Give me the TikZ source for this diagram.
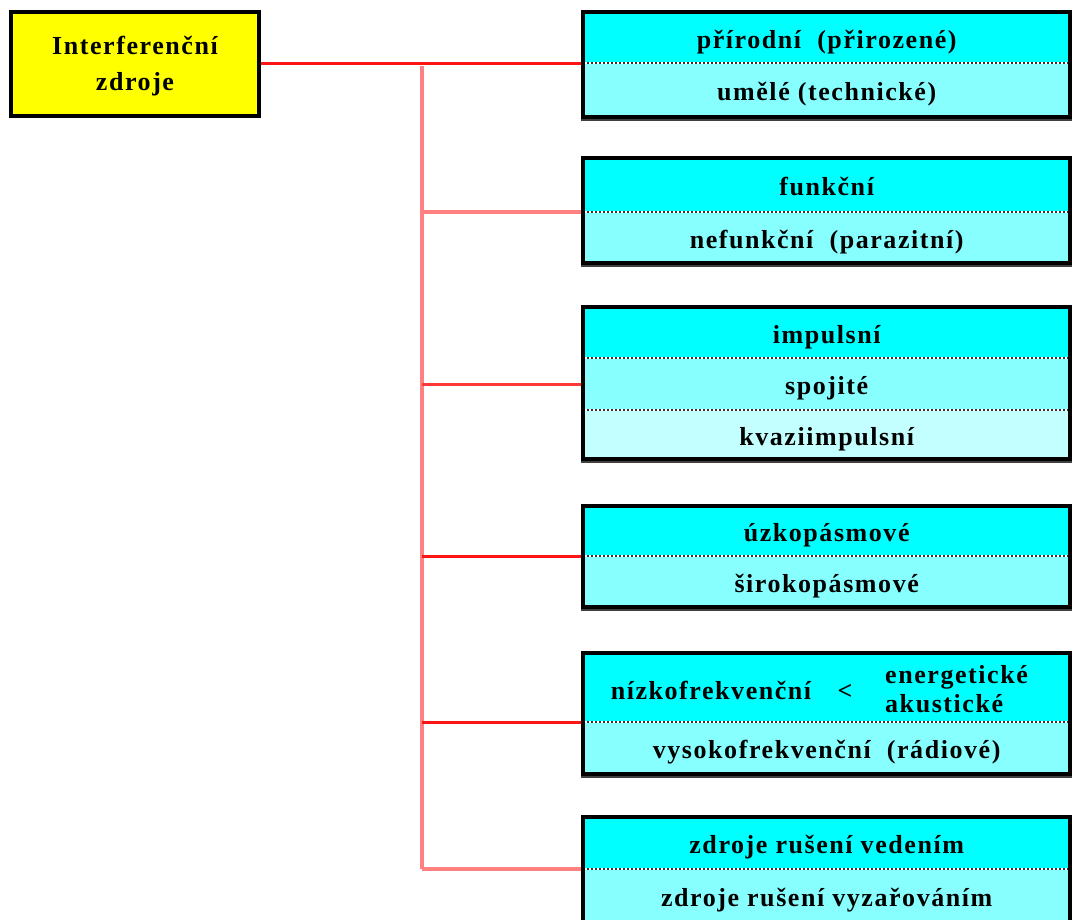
\documentclass[tikz,border=0pt]{standalone}
\usepackage{fontspec}
\setmainfont[LetterSpace=6]{Liberation Serif}
\usetikzlibrary{fit}
\definecolor{cyanA}{RGB}{0,255,255}
\definecolor{cyanB}{RGB}{135,255,255}
\definecolor{cyanC}{RGB}{195,255,255}
\definecolor{lineRed}{RGB}{255,20,20}
\definecolor{lineMid}{RGB}{255,55,55}
\definecolor{linePink}{RGB}{255,128,128}
\definecolor{yel}{RGB}{255,255,0}
\tikzset{
  lbl/.style={font=\fontsize{26}{34}\selectfont\bfseries, inner sep=0pt, text=black},
  rowbase/.style={anchor=north west, minimum width=487pt, inner sep=0pt, draw=none, lbl, text height=21pt, text depth=0pt},
  rowA/.style={rowbase, fill=cyanA},
  rowB/.style={rowbase, fill=cyanB},
  rowC/.style={rowbase, fill=cyanC},
  frame/.style={draw=black, line width=4pt, inner sep=0pt, fill=none},
  divider/.style={draw=white, line width=2pt, postaction={draw=black!80, line width=2pt, dash pattern=on 2pt off 2pt}},
  shadowline/.style={draw=black!75, line width=2pt},
  redline/.style={draw=lineRed, line width=3pt},
  midline/.style={draw=lineMid, line width=3pt},
  pinkline/.style={draw=linePink, line width=4pt},
  rootbox/.style={draw=black, line width=4pt, fill=yel, minimum width=248pt, minimum height=104pt, align=center, lbl, text height=54pt, text depth=0pt}
}
\begin{document}
\begin{tikzpicture}[x=1pt,y=-1pt]
\useasboundingbox (0,0) rectangle (1072,920);
\fill[white] (0,0) rectangle (1072,920);

% root
\node[rootbox] (root) at (135,64) {Interferenční\\[2pt]zdroje};

% box 1
\node[rowA, minimum height=51pt] (b1a) at (583,12) {přírodní~ (přirozené)};
\node[rowB, minimum height=53pt] (b1b) at (b1a.south west) {umělé (technické)};
% box 2
\node[rowA, minimum height=54pt] (b2a) at (583,158) {funkční};
\node[rowB, minimum height=50pt] (b2b) at (b2a.south west) {nefunkční~ (parazitní)};
% box 3
\node[rowA, minimum height=51pt] (b3a) at (583,307) {impulsní};
\node[rowB, minimum height=51pt] (b3b) at (b3a.south west) {spojité};
\node[rowC, minimum height=49pt] (b3c) at (b3b.south west) {kvaziimpulsní};
% box 4
\node[rowA, minimum height=50pt] (b4a) at (583,506) {úzkopásmové};
\node[rowB, minimum height=50pt] (b4b) at (b4a.south west) {širokopásmové};
% box 5
\node[rowA, minimum height=69pt] (b5a) at (583,653) {};
\node[lbl, anchor=base] (b5l) at (711,699) {nízkofrekvenční};
\node[lbl, anchor=base] (b5lt) at (845,699) {<};
\node[lbl, anchor=base west] (b5r1) at (885,683) {energetické};
\node[lbl, anchor=base west] (b5r2) at (885,712) {akustické};
\node[rowB, minimum height=51pt] (b5b) at (b5a.south west) {vysokofrekvenční~ (rádiové)};
% box 6
\node[rowA, minimum height=52pt] (b6a) at (583,817) {zdroje rušení vedením};
\node[rowB, minimum height=53pt] (b6b) at (b6a.south west) {zdroje rušení vyzařováním};

% dividers
\foreach \r in {b1a,b2a,b3a,b3b,b4a,b5a,b6a}
  \draw[divider] (\r.south west) -- (\r.south east);

% frames
\node[frame, fit=(b1a)(b1b)] (b1) {};
\node[frame, fit=(b2a)(b2b)] (b2) {};
\node[frame, fit=(b3a)(b3c)] (b3) {};
\node[frame, fit=(b4a)(b4b)] (b4) {};
\node[frame, fit=(b5a)(b5b)] (b5) {};
\node[frame, fit=(b6a)(b6b)] (b6) {};
\foreach \b in {b1,b2,b3,b4,b5}
  \draw[shadowline] ([yshift=-1pt]\b.south west) -- ([yshift=-1pt]\b.south east);

% connectors
\coordinate (t0) at (422,66);
\draw[pinkline] (t0) -- (t0 |- b6a.south);
\draw[redline] (root.east) -- (root.east -| b1.west);
\draw[pinkline] (t0 |- b2a.south) -- (b2a.south -| b2.west);
\draw[midline] (t0 |- b3b.west) -- (b3b.west -| b3.west);
\draw[redline] (t0 |- b4a.south) -- (b4a.south -| b4.west);
\draw[redline] (t0 |- b5a.south) -- (b5a.south -| b5.west);
\draw[pinkline] (t0 |- b6a.south) -- (b6a.south -| b6.west);
\end{tikzpicture}
\end{document}
